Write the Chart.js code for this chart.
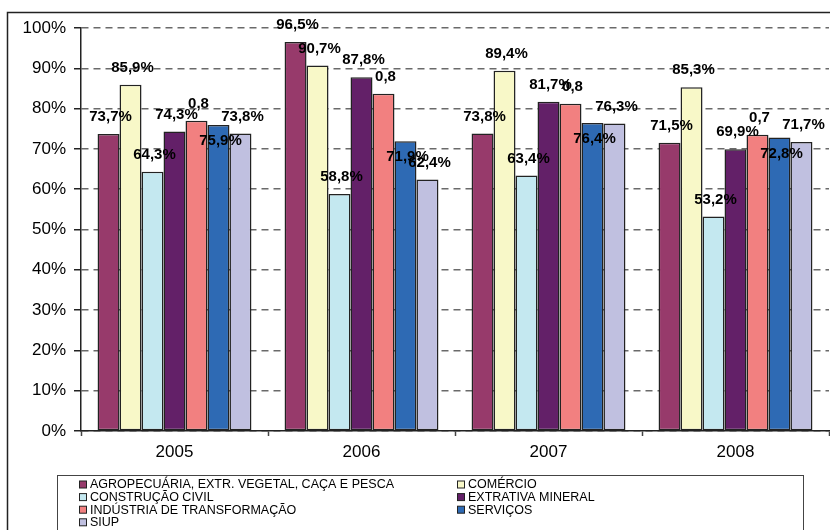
<!DOCTYPE html>
<html>
<head>
<meta charset="utf-8">
<script src="https://cdn.jsdelivr.net/npm/chart.js@4/dist/chart.umd.min.js"></script>
<style>
  html, body { margin: 0; padding: 0; background: #fff; }
  #wrap { width: 830px; height: 530px; }
</style>
</head>
<body>
<div id="wrap"><canvas id="chart" width="830" height="530"></canvas></div>
<script>
'use strict';
// categories and series (percent)
var categories = ['2005', '2006', '2007', '2008'];
var seriesNames = [
  'AGROPECUÁRIA, EXTR. VEGETAL, CAÇA E PESCA',
  'COMÉRCIO',
  'CONSTRUÇÃO CIVIL',
  'EXTRATIVA MINERAL',
  'INDÚSTRIA DE TRANSFORMAÇÃO',
  'SERVIÇOS',
  'SIUP'
];
var agropecuaria = [73.7, 96.5, 73.8, 71.5];
var comercio = [85.9, 90.7, 89.4, 85.3];
var construcao = [64.3, 58.8, 63.4, 53.2];
var extrativa = [74.3, 87.8, 81.7, 69.9];
var industria = [77.0, 83.7, 81.2, 73.5];
var servicos = [75.9, 71.9, 76.4, 72.8];
var siup = [73.8, 62.4, 76.3, 71.7];
var yTicks = [0, 10, 20, 30, 40, 50, 60, 70, 80, 90, 100];

var colors = ['#973a6b', '#f8f8c8', '#c4e8f0', '#632068', '#f28080', '#2e6ab4', '#c0c0e0'];
var seriesValues = [agropecuaria, comercio, construcao, extrativa, industria, servicos, siup];

function pct(v) {
  return v.toFixed(1).replace('.', ',') + '%';
}

var datasets = seriesValues.map(function (vals, i) {
  return {
    label: seriesNames[i],
    data: vals,
    backgroundColor: colors[i],
    borderColor: '#222',
    borderWidth: 1.5,
    borderSkipped: false,
    // industria labels show the raw fraction, serviços labels sit inside the bar
    fraction: i === 4,
    labelBelow: i === 5
  };
});

// value labels above each bar
var valueLabels = {
  id: 'valueLabels',
  afterDatasetsDraw: function (chart) {
    var ctx = chart.ctx;
    ctx.save();
    ctx.font = 'bold 15px "Liberation Sans", Arial, sans-serif';
    ctx.fillStyle = '#000';
    ctx.textAlign = 'center';
    ctx.textBaseline = 'middle';
    chart.data.datasets.forEach(function (ds, i) {
      chart.getDatasetMeta(i).data.forEach(function (bar, j) {
        var v = ds.data[j];
        var txt = ds.fraction ? (v / 100).toFixed(1).replace('.', ',') : pct(v);
        var y = ds.labelBelow ? bar.y + 16 : bar.y - 17;
        ctx.fillText(txt, bar.x + 2, y);
      });
    });
    ctx.restore();
  }
};

// outer frame and boxed legend in two columns
var frameLegend = {
  id: 'frameLegend',
  afterDraw: function (chart) {
    var ctx = chart.ctx;
    ctx.save();
    ctx.strokeStyle = '#222';
    ctx.lineWidth = 1.5;
    ctx.strokeRect(7.5, 12.5, 840, 540);

    ctx.lineWidth = 1;
    ctx.strokeStyle = '#444';
    ctx.strokeRect(57.5, 475.5, 746, 80);

    ctx.font = '12.5px "Liberation Sans", Arial, sans-serif';
    ctx.textBaseline = 'middle';
    ctx.textAlign = 'left';
    chart.data.datasets.forEach(function (ds, i) {
      var col = i % 2, row = Math.floor(i / 2);
      var x = col ? 457 : 79;
      var y = 484.5 + row * 12.6;
      ctx.fillStyle = ds.backgroundColor;
      ctx.fillRect(x + 0.5, y - 3.5, 7, 7);
      ctx.strokeStyle = '#222';
      ctx.strokeRect(x + 0.5, y - 3.5, 7, 7);
      ctx.fillStyle = '#000';
      ctx.fillText(ds.label, x + 11, y + 0.5);
    });
    ctx.restore();
  }
};

var ctx = document.getElementById('chart').getContext('2d');
var chart = new Chart(ctx, {
  type: 'bar',
  data: {
    labels: categories,
    datasets: datasets
  },
  options: {
    responsive: false,
    devicePixelRatio: 1,
    animation: false,
    categoryPercentage: 0.823,
    barPercentage: 1,
    layout: { padding: { left: 0, right: 1, top: 28, bottom: 55 } },
    plugins: {
      legend: { display: false },
      tooltip: { enabled: false }
    },
    scales: {
      x: {
        offset: true,
        afterFit: function (s) { s.height = 44; },
        grid: {
          offset: true,
          drawOnChartArea: false,
          tickLength: 5,
          tickColor: '#444',
          tickWidth: 1.5
        },
        border: { color: '#222', width: 1.5 },
        ticks: {
          color: '#000',
          padding: 6,
          font: { family: '"Liberation Sans", Arial, sans-serif', size: 17 }
        }
      },
      y: {
        min: 0,
        max: 100,
        afterFit: function (s) { s.width = 81; },
        afterBuildTicks: function (s) {
          s.ticks = yTicks.map(function (v) { return { value: v }; });
        },
        grid: {
          color: '#6a6a6a',
          lineWidth: 1.5,
          tickLength: 7,
          tickColor: '#222',
          tickWidth: 1.5,
          tickBorderDash: []
        },
        border: { color: '#222', width: 1.5, dash: [7, 5] },
        ticks: {
          color: '#000',
          padding: 8,
          callback: function (v) { return v + '%'; },
          font: { family: '"Liberation Sans", Arial, sans-serif', size: 17 }
        }
      }
    }
  },
  plugins: [valueLabels, frameLegend]
});
</script>
</body>
</html>
